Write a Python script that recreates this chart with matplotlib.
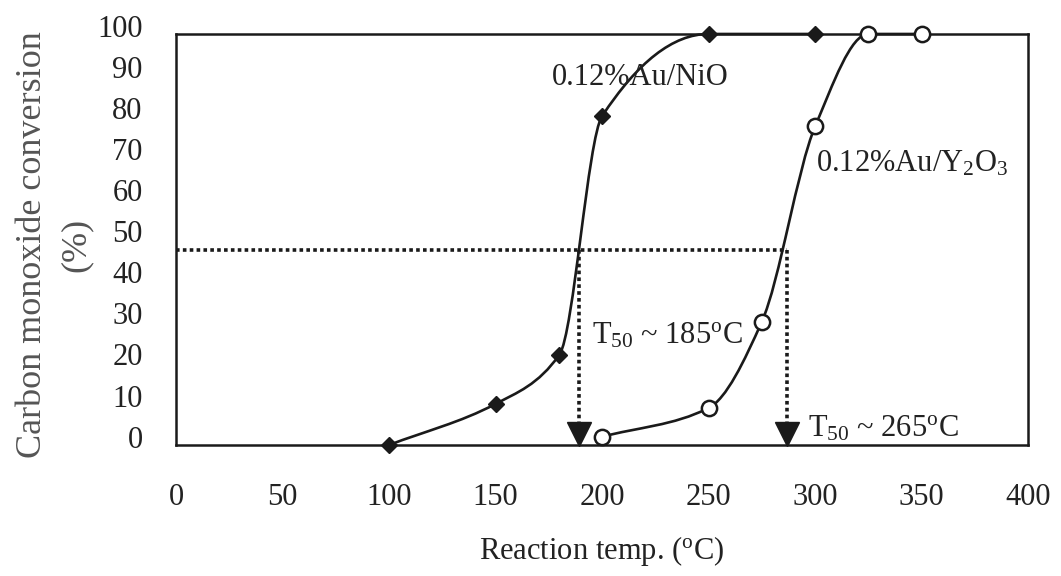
import matplotlib
matplotlib.use("Agg")
import matplotlib.pyplot as plt
import matplotlib.transforms as mtransforms
from matplotlib.path import Path
from matplotlib.patches import PathPatch
import numpy as np

plt.rcParams['font.family'] = ['Liberation Serif', 'DejaVu Serif']
plt.rcParams['mathtext.fontset'] = 'custom'
plt.rcParams['mathtext.rm'] = 'Liberation Serif'
plt.rcParams['mathtext.it'] = 'Liberation Serif:italic'

# Data
nio_temp = [100, 150, 180, 200, 250, 300]
nio_conv = [0, 10, 22, 80, 100, 100]
y2o3_temp = [200, 250, 275, 300, 325, 350]
y2o3_conv = [2, 9, 30, 77.5, 100, 100]

t50_level = 47.5
t50_nio_x = 189
t50_y2o3_x = 287

x_ticks = [0, 50, 100, 150, 200, 250, 300, 350, 400]
y_ticks = [0, 10, 20, 30, 40, 50, 60, 70, 80, 90, 100]


def pchip_slopes(x, y):
    x = np.asarray(x, float)
    y = np.asarray(y, float)
    h = np.diff(x)
    delta = np.diff(y) / h
    n = len(x)
    d = np.zeros(n)
    for k in range(1, n - 1):
        if delta[k - 1] * delta[k] <= 0:
            d[k] = 0.0
        else:
            w1 = 2 * h[k] + h[k - 1]
            w2 = h[k] + 2 * h[k - 1]
            d[k] = (w1 + w2) / (w1 / delta[k - 1] + w2 / delta[k])
    d[0] = delta[0]
    d[-1] = delta[-1]
    return d


def smooth_path(xs, ys):
    """Monotone cubic (PCHIP) curve through the points as Bezier segments."""
    x = np.asarray(xs, float)
    y = np.asarray(ys, float)
    d = pchip_slopes(x, y)
    verts = [(x[0], y[0])]
    codes = [Path.MOVETO]
    for i in range(len(x) - 1):
        h = x[i + 1] - x[i]
        verts += [(x[i] + h / 3, y[i] + d[i] * h / 3),
                  (x[i + 1] - h / 3, y[i + 1] - d[i + 1] * h / 3),
                  (x[i + 1], y[i + 1])]
        codes += [Path.CURVE4] * 3
    return Path(verts, codes)


fig = plt.figure(figsize=(10.61, 5.76), dpi=100)
ax = fig.add_axes([0.1659, 0.2274, 0.8031, 0.7136])

ax.set_xlim(0, 400)
ax.set_ylim(0, 100)

# curves
for xs, ys in [(nio_temp, nio_conv), (y2o3_temp, y2o3_conv)]:
    ax.add_patch(PathPatch(smooth_path(xs, ys), facecolor='none',
                           edgecolor='#1a1a1a', lw=1.9, zorder=3, clip_on=False))

ax.plot(nio_temp, nio_conv, linestyle='none', marker='D', markersize=8,
        color='#1a1a1a', zorder=4, clip_on=False)
ax.plot(y2o3_temp, y2o3_conv, linestyle='none', marker='o', markersize=11,
        markerfacecolor='white', markeredgecolor='#1a1a1a', markeredgewidth=1.8,
        zorder=4, clip_on=False)

# T50 guide lines
ax.plot([0, t50_y2o3_x], [t50_level, t50_level], linestyle=(0, (1, 0.9)),
        color='#1a1a1a', lw=2.6, zorder=2)
for xv in [t50_nio_x, t50_y2o3_x]:
    ax.plot([xv, xv], [t50_level, 4], linestyle=(0, (1, 0.9)), color='#1a1a1a',
            lw=2.6, zorder=2)
    ax.plot([xv], [2.8], marker='v', markersize=17, color='#1a1a1a',
            zorder=5, clip_on=False)

ax.set_xticks(x_ticks)
ax.set_yticks(y_ticks)
ax.tick_params(length=0, labelsize=22, colors='#222222')
ax.tick_params(axis='x', pad=27)
ax.tick_params(axis='y', pad=24)
shift = mtransforms.ScaledTranslation(0, 6 / 72, fig.dpi_scale_trans)
for lab in ax.get_yticklabels():
    lab.set_transform(lab.get_transform() + shift)
for s in ax.spines.values():
    s.set_linewidth(1.8)
    s.set_color('#1a1a1a')

ax.set_xlabel(r"Reaction temp. ($^{\mathrm{o}}$C)", fontsize=22, color='#222222',
              labelpad=16)
fig.text(0.031, 0.575, "Carbon monoxide conversion", rotation=90, fontsize=26,
         color='#555555', ha='center', va='center')
fig.text(0.072, 0.575, "(%)", rotation=90, fontsize=26,
         color='#555555', ha='center', va='center')

ax.text(218, 89.5, "0.12%Au/NiO", fontsize=22, color='#222222', ha='center',
        va='center')
ax.text(300.5, 68.5, r"0.12%Au/Y$_2$O$_3$", fontsize=22, color='#222222',
        ha='left', va='center', zorder=6)
ax.text(195.5, 26.5, r"T$_{50}$ ~ 185$^{\mathrm{o}}$C", fontsize=22,
        color='#222222', ha='left', va='center', zorder=6)
ax.text(296.5, 4, r"T$_{50}$ ~ 265$^{\mathrm{o}}$C", fontsize=22,
        color='#222222', ha='left', va='center', zorder=6)

fig.savefig("out.png", dpi=100)
